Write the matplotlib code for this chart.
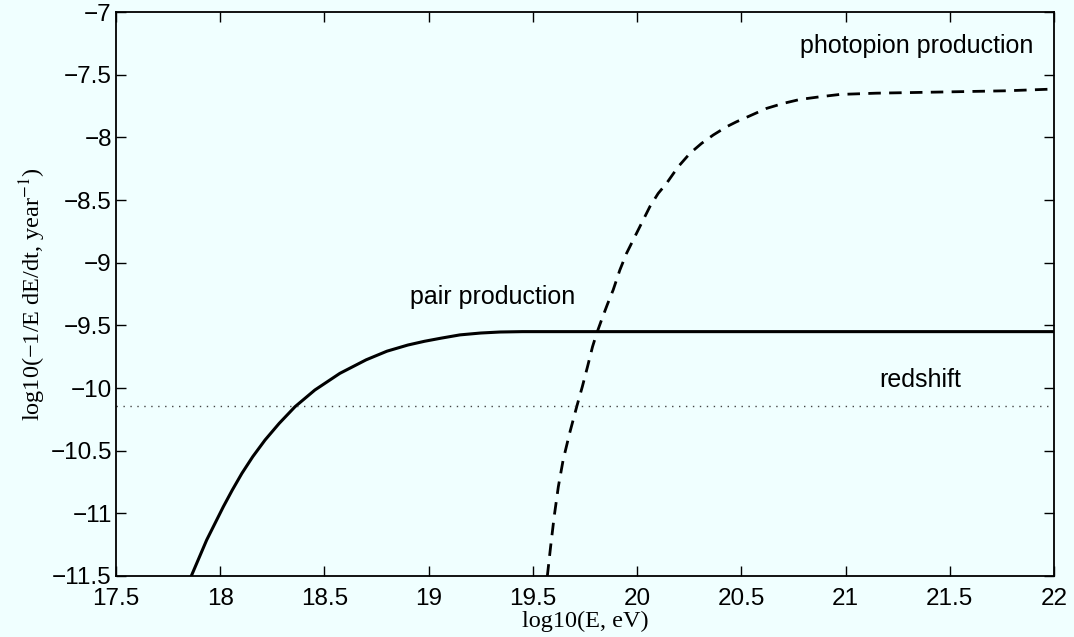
import numpy as np
import matplotlib
matplotlib.use("Agg")
import matplotlib.pyplot as plt

# energy loss curves, log10(E) vs log10(-1/E dE/dt)
pair_logE = [17.860, 17.935, 18.015, 18.058, 18.104, 18.156, 18.215, 18.283, 18.359, 18.454,
             18.574, 18.70, 18.80, 18.90, 18.98, 19.06, 19.15, 19.25, 19.342, 19.45, 19.60, 20.5, 22.0]
pair_rate = [-11.505, -11.213, -10.947, -10.814, -10.681, -10.548, -10.415, -10.282, -10.149, -10.016,
             -9.883, -9.775, -9.706, -9.657, -9.627, -9.602, -9.576, -9.561, -9.553, -9.55, -9.55, -9.55, -9.55]

pion_logE = [19.569, 19.585, 19.602, 19.622, 19.645, 19.676, 19.711, 19.737, 19.762, 19.786,
             19.806, 19.833, 19.858, 19.885, 19.917, 19.949, 19.981, 20.021, 20.061, 20.101,
             20.141, 20.197, 20.253, 20.309, 20.365, 20.429, 20.477, 20.557, 20.620, 20.700,
             20.781, 20.876, 20.973, 21.148, 21.45, 21.77, 22.0]
pion_rate = [-11.505, -11.266, -11.027, -10.788, -10.575, -10.362, -10.144, -9.990, -9.830, -9.671,
             -9.564, -9.44, -9.33, -9.218, -9.059, -8.926, -8.819, -8.686, -8.553, -8.447,
             -8.367, -8.234, -8.128, -8.048, -7.981, -7.915, -7.875, -7.816, -7.769, -7.729,
             -7.697, -7.676, -7.657, -7.647, -7.638, -7.628, -7.614]

redshift_rate = -10.14

xticks = [17.5, 18, 18.5, 19, 19.5, 20, 20.5, 21, 21.5, 22]
yticks = [-11.5, -11, -10.5, -10, -9.5, -9, -8.5, -8, -7.5, -7]

bg = "#F0FFFF"
plt.rcParams["font.family"] = ["Liberation Sans", "DejaVu Sans"]
plt.rcParams["mathtext.fontset"] = "stix"

fig = plt.figure(figsize=(10.74, 6.37), dpi=100, facecolor=bg)
ax = fig.add_axes([0.108, 0.0958, 0.8734, 0.8852], facecolor=bg)

ax.plot(pair_logE, pair_rate, color="black", lw=2.2, solid_joinstyle="round")
ax.plot(pion_logE, pion_rate, color="black", lw=2.0, linestyle=(0, (4.5, 3)))
ax.axhline(redshift_rate, color="#444444", lw=1.0, linestyle=(0, (1, 4)))

ax.text(20.78, -7.27, "photopion production", fontsize=18, va="center", ha="left")
ax.text(18.91, -9.27, "pair production", fontsize=18, va="center", ha="left")
ax.text(21.16, -9.94, "redshift", fontsize=18, va="center", ha="left")

ax.set_xlim(17.5, 22)
ax.set_ylim(-11.5, -7)
ax.set_xticks(xticks)
ax.set_yticks(yticks)
ax.set_xticklabels([f"{t:g}" for t in xticks])
ax.set_yticklabels([f"{t:g}".replace("-", "\u2212") for t in yticks])
ax.tick_params(direction="in", top=True, right=True, length=7, width=1.0,
               labelsize=17.5, pad=3)
ax.tick_params(axis="x", pad=9)
for s in ax.spines.values():
    s.set_linewidth(1.3)

ax.set_xlabel("log10(E, eV)", family="Liberation Serif", fontsize=17.5, labelpad=0)
ax.set_ylabel("log10(\u22121/E dE/dt, year$^{-1}$)", family="Liberation Serif",
              fontsize=17.5, labelpad=2)

fig.savefig("out.png", dpi=100, facecolor=bg)
